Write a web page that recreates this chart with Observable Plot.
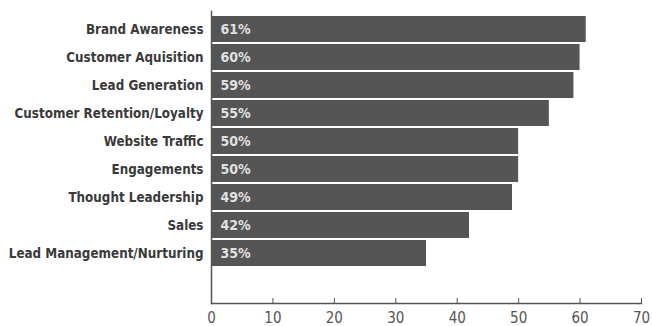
<!DOCTYPE html>
<html>
<head>
<meta charset="utf-8">
<script src="https://cdn.jsdelivr.net/npm/d3@7"></script>
<script src="https://cdn.jsdelivr.net/npm/@observablehq/plot@0.6"></script>
<style>
  html, body { margin: 0; padding: 0; background: #fff; }
  #chart svg { display: block; }
</style>
</head>
<body>
<div id="chart"></div>
<script>
const categories = [
  "Brand Awareness",
  "Customer Aquisition",
  "Lead Generation",
  "Customer Retention/Loyalty",
  "Website Traffic",
  "Engagements",
  "Thought Leadership",
  "Sales",
  "Lead Management/Nurturing"
];
const values = [61, 60, 59, 55, 50, 50, 49, 42, 35];
const xTicks = [0, 10, 20, 30, 40, 50, 60, 70];

const data = categories.map((c, i) => ({category: c, value: values[i], label: values[i] + "%"}));
const font = "'DejaVu Sans Condensed', 'DejaVu Sans', sans-serif";

const chart = Plot.plot({
  width: 652,
  height: 326,
  marginLeft: 211,
  marginRight: 11,
  marginTop: 11,
  marginBottom: 23,
  style: {background: "#fff"},
  x: {domain: [0, 70], ticks: xTicks, label: null},
  y: {domain: categories, range: [10, 272], padding: 0.07, label: null},
  marks: [
    Plot.barX(data, {x: "value", y: "category", fill: "#555555"}),
    Plot.text(data, {
      x: 0, y: "category", text: "label", textAnchor: "start", dx: 9,
      fill: "#e0e0e0", fontWeight: "bold", fontSize: 14, fontFamily: font
    }),
    Plot.axisY({
      tickSize: 0, tickPadding: 8, fontSize: 13.3, fontWeight: "bold",
      fill: "#3a3a3a", fontFamily: font, label: null
    }),
    Plot.axisX({ticks: xTicks, text: null, tickSize: -5, stroke: "#555", label: null}),
    Plot.axisX({
      ticks: xTicks, tickSize: 0, tickPadding: 9, fontSize: 15,
      fill: "#555", fontFamily: font, label: null
    }),
    Plot.frame({anchor: "bottom", stroke: "#555", strokeWidth: 1.5}),
    Plot.frame({anchor: "left", stroke: "#555", strokeWidth: 1.5})
  ]
});
document.getElementById("chart").appendChild(chart);
</script>
</body>
</html>
